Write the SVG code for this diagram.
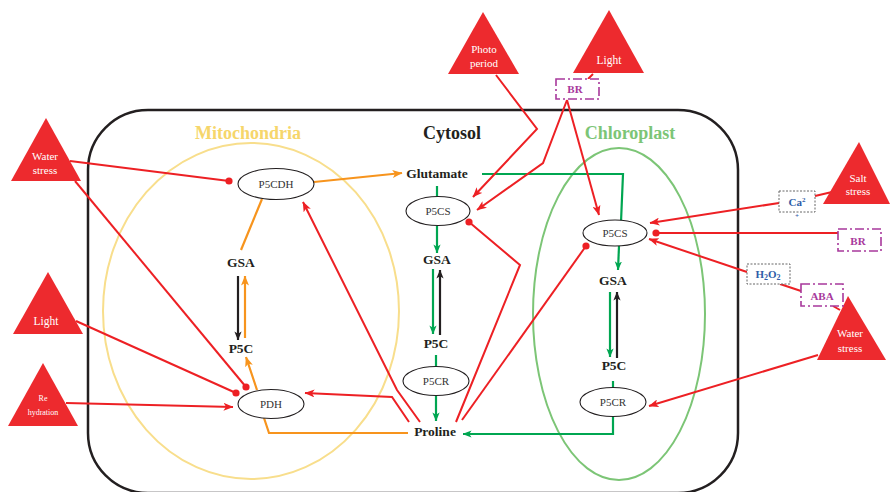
<svg xmlns="http://www.w3.org/2000/svg" width="890" height="492" viewBox="0 0 890 492">
<style>
.bg{fill:#fff}
.cell{fill:none;stroke:#231f20;stroke-width:2.5}
.mito{fill:none;stroke:#F8DE8C;stroke-width:2}
.chlo{fill:none;stroke:#7CC576;stroke-width:2}
.node{fill:#fff;stroke:#231f20;stroke-width:1.1}
.nt{font-family:"Liberation Serif",serif;font-size:11px;fill:#333;text-anchor:middle}
.met{font-family:"Liberation Serif",serif;font-size:13.5px;font-weight:bold;fill:#231f20;text-anchor:middle}
.comp{font-family:"Liberation Serif",serif;font-size:18px;font-weight:bold;text-anchor:middle}
.tri{fill:#ED2A2E}
.tt{font-family:"Liberation Serif",serif;font-size:11px;fill:#fff;text-anchor:middle}
.red{fill:none;stroke:#ED2024;stroke-width:2}
.org{fill:none;stroke:#F7941D;stroke-width:2.2}
.grn{fill:none;stroke:#00A651;stroke-width:2.2}
.blk{fill:none;stroke:#231f20;stroke-width:2.2}
.pbox{fill:#fff;stroke:#A8399C;stroke-width:1.6;stroke-dasharray:9 3 2 3}
.gbox{fill:#fff;stroke:#666;stroke-width:1;stroke-dasharray:2 1.5}
.pt{font-family:"Liberation Serif",serif;font-size:11px;font-weight:bold;fill:#A8399C;text-anchor:middle}
.bt{font-family:"Liberation Serif",serif;font-size:11px;font-weight:bold;fill:#2E5CA8;text-anchor:middle}
</style>
<defs>
<marker id="arR" viewBox="0 0 10 8" refX="9.5" refY="4" markerWidth="10" markerHeight="8" markerUnits="userSpaceOnUse" orient="auto"><path d="M0,0 L10,4 L0,8 L2.5,4 z" fill="#ED2024"/></marker>
<marker id="arO" viewBox="0 0 10 8" refX="9.5" refY="4" markerWidth="10" markerHeight="8" markerUnits="userSpaceOnUse" orient="auto"><path d="M0,0 L10,4 L0,8 L2.5,4 z" fill="#F7941D"/></marker>
<marker id="arG" viewBox="0 0 10 8" refX="9.5" refY="4" markerWidth="9" markerHeight="8" markerUnits="userSpaceOnUse" orient="auto"><path d="M0,0 L10,4 L0,8 L2.5,4 z" fill="#00A651"/></marker>
<marker id="arK" viewBox="0 0 10 8" refX="9.5" refY="4" markerWidth="9" markerHeight="8" markerUnits="userSpaceOnUse" orient="auto"><path d="M0,0 L10,4 L0,8 L2.5,4 z" fill="#231f20"/></marker>
<marker id="dotR" viewBox="-5 -5 10 10" refX="0" refY="0" markerWidth="10" markerHeight="10" markerUnits="userSpaceOnUse" overflow="visible"><circle cx="0" cy="0" r="3.6" fill="#ED2024"/></marker>
</defs>
<rect class="bg" x="0" y="0" width="890" height="492"/>

<g id="cell">
<rect class="cell" x="88" y="110" width="650" height="383" rx="60" ry="60"/>
<text class="comp" x="452" y="139" fill="#231f20">Cytosol</text>
</g>
<g id="mitochondria">
<ellipse class="mito" cx="251" cy="311" rx="148" ry="168"/>
<text class="comp" x="248" y="139" fill="#F6D66B">Mitochondria</text>
</g>
<g id="chloroplast">
<ellipse class="chlo" cx="619" cy="314" rx="86" ry="166"/>
<text class="comp" x="630" y="139" fill="#7CC576">Chloroplast</text>
</g>

<g id="connectors">
<path class="org" d="M314,182 L402,173" marker-end="url(#arO)"/>
<path class="org" d="M241,250 L262,199"/>
<path class="org" d="M245,338 L245,276" marker-end="url(#arO)"/>
<path class="blk" d="M238,276 L238,340" marker-end="url(#arK)"/>
<path class="org" d="M257,390 L246,357" marker-end="url(#arO)"/>
<path class="org" d="M408,433 L269,433 L264,418"/>
<path class="grn" d="M437,186 L437,197"/>
<path class="grn" d="M437,226 L437,253" marker-end="url(#arG)"/>
<path class="grn" d="M433,269 L433,334" marker-end="url(#arG)"/>
<path class="blk" d="M440,335 L440,270" marker-end="url(#arK)"/>
<path class="grn" d="M436,355 L436,367"/>
<path class="grn" d="M436,396 L436,421" marker-end="url(#arG)"/>
<path class="grn" d="M482,174 L623,174 L621,222"/>
<path class="grn" d="M619,246 L618,270" marker-end="url(#arG)"/>
<path class="grn" d="M610,292 L610,357" marker-end="url(#arG)"/>
<path class="blk" d="M617,358 L617,292" marker-end="url(#arK)"/>
<path class="grn" d="M613,381 L613,388"/>
<path class="grn" d="M613,416 L613,434 L463,434" marker-end="url(#arG)"/>
<path class="red" d="M70,161 L229,181" marker-end="url(#dotR)"/>
<path class="red" d="M75,181 L246,387" marker-end="url(#dotR)"/>
<path class="red" d="M76,321 L236,393" marker-end="url(#dotR)"/>
<path class="red" d="M66,403 L233,407" marker-end="url(#arR)"/>
<path class="red" d="M420,422 L397,390 L303,202" marker-end="url(#arR)"/>
<path class="red" d="M409,422 L392,397 L305,393" marker-end="url(#arR)"/>
<path class="red" d="M456,422 L520,265 L469,222" marker-end="url(#dotR)"/>
<path class="red" d="M462,420 L586,246" marker-end="url(#dotR)"/>
<path class="red" d="M496,75 L537,129 L473,197" marker-end="url(#arR)"/>
<path class="red" d="M567,100 L543,163 L477,210" marker-end="url(#arR)"/>
<path class="red" d="M567,100 L599,215" marker-end="url(#arR)"/>
<path class="red" d="M593,74 L588,79"/>
<path class="red" d="M832,192 L815,196"/>
<path class="red" d="M779,203 L650,223" marker-end="url(#arR)"/>
<path class="red" d="M838,233 L656,233" marker-end="url(#dotR)"/>
<path class="red" d="M747,272 L649,239" marker-end="url(#arR)"/>
<path class="red" d="M801,291 L780,284"/>
<path class="red" d="M840,310 L833,306"/>
<path class="red" d="M818,355 L649,406" marker-end="url(#arR)"/>
</g>

<g id="P5CDH"><ellipse class="node" cx="276" cy="184" rx="38" ry="15.5"/><text class="nt" x="276" y="188">P5CDH</text></g>
<g id="PDH"><ellipse class="node" cx="271" cy="404" rx="33" ry="14.5"/><text class="nt" x="271" y="408">PDH</text></g>
<g id="P5CS-cyt"><ellipse class="node" cx="438" cy="211" rx="32" ry="14.5"/><text class="nt" x="438" y="215">P5CS</text></g>
<g id="P5CR-cyt"><ellipse class="node" cx="436" cy="381" rx="33" ry="14.5"/><text class="nt" x="436" y="385">P5CR</text></g>
<g id="P5CS-chl"><ellipse class="node" cx="615" cy="233" rx="32" ry="13"/><text class="nt" x="615" y="237">P5CS</text></g>
<g id="P5CR-chl"><ellipse class="node" cx="613" cy="402" rx="33" ry="14.5"/><text class="nt" x="613" y="406">P5CR</text></g>

<g id="Glutamate"><text class="met" x="437" y="178">Glutamate</text></g>
<g id="GSA-cyt"><text class="met" x="437" y="264">GSA</text></g>
<g id="P5C-cyt"><text class="met" x="436" y="348">P5C</text></g>
<g id="Proline"><text class="met" x="435" y="436">Proline</text></g>
<g id="GSA-mito"><text class="met" x="241" y="267">GSA</text></g>
<g id="P5C-mito"><text class="met" x="241" y="353">P5C</text></g>
<g id="GSA-chl"><text class="met" x="613" y="285">GSA</text></g>
<g id="P5C-chl"><text class="met" x="614" y="370">P5C</text></g>

<g id="water-stress-left"><path class="tri" d="M46,118 L11,181 L81,181 z"/><text class="tt" x="45" y="160">Water</text><text class="tt" x="45" y="174">stress</text></g>
<g id="light-left"><path class="tri" d="M48,272 L13,334 L83,334 z"/><text class="tt" x="46" y="325" style="font-size:11.5px">Light</text></g>
<g id="rehydration"><path class="tri" d="M43,363 L8,426 L78,426 z"/><text class="tt" x="43" y="401" style="font-size:8px">Re</text><text class="tt" x="43" y="415" style="font-size:8px">hydration</text></g>
<g id="photoperiod"><path class="tri" d="M483,12 L448,74 L519,74 z"/><text class="tt" x="484" y="53">Photo</text><text class="tt" x="484" y="67">period</text></g>
<g id="light-top"><path class="tri" d="M609,10 L573,73 L644,73 z"/><text class="tt" x="609" y="64" style="font-size:11.5px">Light</text></g>
<g id="salt-stress"><path class="tri" d="M859,142 L823,204 L890,204 z"/><text class="tt" x="858" y="182">Salt</text><text class="tt" x="858" y="195">stress</text></g>
<g id="water-stress-right"><path class="tri" d="M848,296 L817,360 L886,360 z"/><text class="tt" x="850" y="337">Water</text><text class="tt" x="850" y="352">stress</text></g>

<g id="BR-top"><rect class="pbox" x="556" y="79" width="43" height="20"/><text class="pt" x="575" y="93">BR</text></g>
<g id="Ca"><rect class="gbox" x="779" y="191" width="36" height="21"/><text class="bt" x="797" y="206">Ca<tspan dy="-4" style="font-size:7px">2</tspan></text><text class="bt" x="797" y="218" style="font-size:7px">+</text></g>
<g id="BR-right"><rect class="pbox" x="838" y="229" width="43" height="22"/><text class="pt" x="858" y="245">BR</text></g>
<g id="H2O2"><rect class="gbox" x="747" y="264" width="43" height="20"/><text class="bt" x="768" y="278">H<tspan dy="2" style="font-size:8px">2</tspan><tspan dy="-2">O</tspan><tspan dy="2" style="font-size:8px">2</tspan></text></g>
<g id="ABA"><rect class="pbox" x="801" y="284" width="42" height="22"/><text class="pt" x="822" y="300">ABA</text></g>
</svg>
